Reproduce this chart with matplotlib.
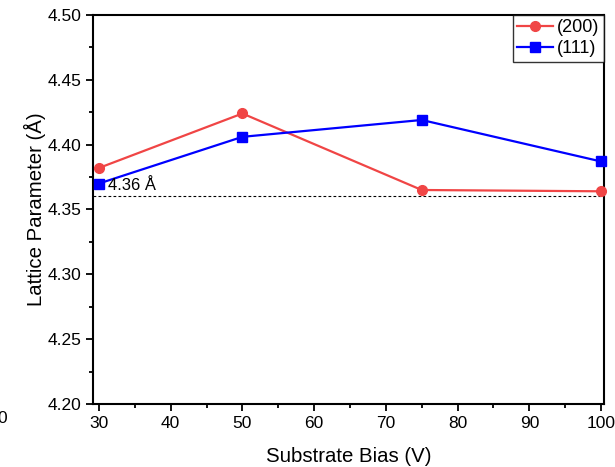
import matplotlib
matplotlib.use("Agg")
import matplotlib.pyplot as plt
from matplotlib.ticker import MultipleLocator

plt.rcParams['font.family'] = ['Liberation Sans', 'DejaVu Sans']

bias = [30, 50, 75, 100]
lat_200 = [4.382, 4.424, 4.365, 4.364]
lat_111 = [4.370, 4.406, 4.419, 4.387]
ref_lattice = 4.36

fig = plt.figure(figsize=(6.15, 4.67), dpi=100)
ax = fig.add_axes([0.151, 0.135, 0.831, 0.833])

ax.plot(bias, lat_200, color='#f04545', marker='o', markersize=7, lw=1.6,
        label='(200)', clip_on=False, zorder=3)
ax.plot(bias, lat_111, color='#0000ff', marker='s', markersize=6.5, lw=1.6,
        label='(111)', clip_on=False, zorder=3)

# reference value
ax.axhline(ref_lattice, color='black', ls=(0, (2.5, 2)), lw=0.8)
ax.text(31.2, ref_lattice + 0.003, '4.36 Å', fontsize=12, va='bottom')

ax.set_xlim(29.15, 100.4)
ax.set_ylim(4.20, 4.50)
ax.xaxis.set_major_locator(MultipleLocator(10))
ax.xaxis.set_minor_locator(MultipleLocator(5))
ax.yaxis.set_major_locator(MultipleLocator(0.05))
ax.yaxis.set_minor_locator(MultipleLocator(0.025))
ax.yaxis.set_major_formatter(plt.FormatStrFormatter('%.2f'))

ax.tick_params(which='major', direction='out', length=5, width=1.3, labelsize=12.5)
ax.tick_params(which='minor', direction='out', length=3, width=1.3)
for s in ax.spines.values():
    s.set_linewidth(1.5)

ax.set_xlabel('Substrate Bias (V)', fontsize=14.7, labelpad=12)
ax.set_ylabel('Lattice Parameter (Å)', fontsize=14.7, labelpad=1)

leg = ax.legend(loc='upper right', fontsize=13, frameon=True, fancybox=False,
                borderaxespad=0, handlelength=2.0, handletextpad=0.2,
                borderpad=0.25, labelspacing=0.2)
leg.get_frame().set_edgecolor('black')
leg.get_frame().set_linewidth(1.0)

fig.text(-0.004, 0.095, '0', fontsize=12.5)

fig.savefig('out.png', dpi=100)
